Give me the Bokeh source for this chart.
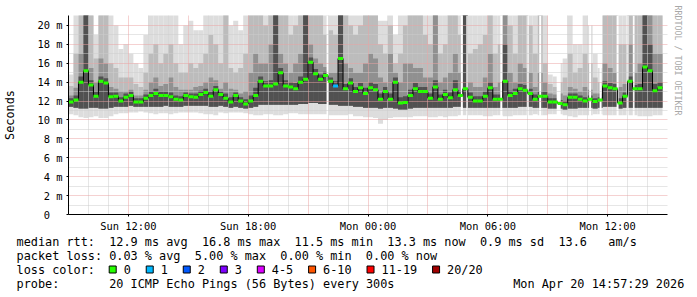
import math
import re
from bokeh.plotting import figure
from bokeh.layouts import column
from bokeh.models import FixedTicker, Grid, Range1d, ColumnDataSource, Title, LinearAxis
from bokeh.core.properties import value
from bokeh.embed import file_html
from bokeh.resources import INLINE

# ---------------- data (times in hours since Sun 00:00, 15-minute bins, values in ms) ----------------
BIN_HOURS = 0.25
FIRST_BIN = 9.0

median_ms = [
    11.9, 12.1, 14.0, 15.2, 13.7, 12.5, 14.1, 13.9, 12.45, 12.5, 12.0, 12.4, 12.6, 11.9, 11.9, 12.3, 12.6, 12.8, 12.6, 12.6,
    12.45, 12.2, 12.1, 12.6, 12.45, 12.4, 12.7, 12.9, 12.5, 13.2, 12.7, 12.3, 11.9, 12.6, 12.0, 11.7, 12.0, 12.6, 14.1, 13.6,
    13.6, 13.8, 15.0, 13.6, 13.5, 13.3, 14.0, 14.3, 16.1, 14.9, 14.3, 14.7, 14.1, 13.6, 16.5, 13.3, 13.9, 13.0, 13.4, 12.8,
    13.4, 13.2, 12.2, 13.0, 12.2, 14.0, 11.8, 11.85, 12.6, 13.3, 13.0, 13.0, 12.3, 13.5, 12.2, 12.7, 12.35, 13.2, 12.6, 13.3,
    12.4, 12.0, 12.0, 12.5, 13.4, 12.2, 12.2, 14.1, 12.6, 12.8, 13.3, 13.15, 12.8, 12.2, 12.5, 12.5, 11.9, 11.9, 11.75, 11.6,
    12.4, 12.4, 12.2, 12.0, 12.2, 11.95, 12.1, 13.6, 13.4, 13.3, 11.8, 12.5, 14.1, 13.3, 13.3, 15.6, 15.2, 13.1, 13.4,
]
loss_count = [
    0, 0, 0, 0, 0, 0, 0, 0, 0, 0, 0, 0, 0, 0, 0, 0, 0, 0, 0, 0,
    0, 0, 0, 0, 0, 0, 0, 0, 0, 0, 0, 0, 0, 0, 0, 0, 0, 0, 0, 0,
    0, 0, 0, 0, 0, 0, 0, 0, 0, 0, 0, 0, 0, 1, 0, 0, 0, 0, 0, 0,
    0, 0, 0, 0, 0, 0, 0, 0, 0, 0, 0, 0, 0, 0, 0, 0, 0, 0, 0, 0,
    0, 0, 0, 0, 0, 0, 0, 0, 0, 0, 0, 0, 0, 0, 0, 0, 0, 0, 0, 0,
    0, 0, 0, 0, 0, 0, 0, 0, 0, 0, 0, 0, 0, 0, 0, 0, 0, 0, 0,
]
# smoke: outer band (min..max), then narrower ping bands towards the median (21.1 = off the top)
smoke_max = [
    14.8, 21.1, 21.1, 21.1, 21.1, 19.0, 21.1, 21.1, 21.1, 20.0, 17.5, 18.0, 17.0, 16.0, 15.5, 19.0, 21.1, 21.1, 21.1, 21.1,
    21.1, 21.1, 18.0, 20.0, 20.5, 19.5, 19.5, 21.1, 21.1, 21.1, 21.1, 21.1, 20.0, 20.5, 19.5, 21.1, 21.1, 21.1, 21.1, 21.1,
    21.1, 21.1, 21.1, 21.1, 21.1, 21.1, 21.1, 21.1, 21.1, 21.1, 21.1, 21.1, 21.1, 21.1, 21.1, 21.1, 21.1, 21.1, 21.1, 21.1,
    21.1, 21.1, 20.5, 20.5, 21.1, 19.0, 21.1, 21.1, 21.1, 21.1, 21.1, 21.1, 21.1, 21.1, 21.1, 21.1, 21.1, 21.1, 21.1, 21.1,
    21.1, 21.1, 21.1, 21.1, 21.1, 21.1, 21.1, 21.1, 21.1, 21.1, 21.1, 21.1, 21.1, 21.1, 21.1, 21.1, 14.8, 14.6, 16.0, 16.5,
    21.1, 18.0, 18.0, 21.1, 20.0, 17.0, 15.5, 21.1, 21.1, 21.1, 21.1, 21.1, 21.1, 21.1, 21.1, 21.1, 21.1, 21.1, 21.1,
]
smoke_hi_mid = [
    13.6, 17.0, 21.1, 21.1, 21.1, 16.5, 21.1, 21.1, 16.0, 15.5, 14.5, 14.5, 14.5, 13.8, 13.5, 15.0, 17.0, 18.0, 16.0, 17.0,
    18.0, 16.0, 15.0, 15.0, 16.0, 15.5, 16.0, 17.0, 19.0, 18.0, 16.0, 21.1, 15.5, 15.0, 15.5, 17.0, 21.1, 21.1, 21.1, 20.0,
    21.1, 21.1, 21.1, 21.1, 19.0, 20.0, 21.1, 21.1, 21.1, 21.1, 21.1, 19.0, 19.5, 19.0, 21.1, 21.1, 20.0, 19.0, 20.0, 21.1,
    21.1, 21.1, 18.0, 17.0, 20.0, 16.0, 17.0, 20.0, 21.1, 21.1, 21.1, 19.0, 18.0, 21.1, 17.0, 18.0, 21.1, 21.1, 19.0, 21.1,
    17.0, 17.5, 18.0, 19.0, 21.1, 17.0, 18.0, 21.1, 20.0, 17.0, 21.1, 21.1, 20.0, 17.0, 21.1, 16.0, 13.8, 13.5, 14.0, 14.5,
    17.0, 15.0, 15.5, 17.0, 16.0, 14.5, 14.0, 21.1, 21.1, 21.1, 18.0, 18.0, 21.1, 21.1, 21.1, 21.1, 21.1, 21.1, 21.1,
]
smoke_hi_dark = [
    12.6, 13.4, 17.0, 21.1, 15.5, 14.0, 16.5, 16.0, 13.5, 13.3, 13.0, 13.0, 13.2, 12.6, 12.6, 13.2, 14.0, 14.5, 13.6, 13.8,
    14.5, 13.5, 13.2, 13.2, 13.2, 13.5, 13.6, 14.0, 14.5, 14.2, 13.3, 14.0, 13.3, 13.2, 12.8, 13.0, 15.0, 17.0, 16.0, 16.0,
    18.0, 21.1, 17.0, 16.0, 15.0, 16.0, 17.0, 21.1, 18.0, 16.5, 16.0, 15.6, 15.0, 15.0, 21.1, 16.0, 15.5, 15.0, 15.0, 16.0,
    17.0, 16.5, 14.5, 14.0, 17.0, 15.0, 14.0, 16.0, 16.0, 15.5, 15.5, 14.5, 14.5, 21.1, 14.0, 14.5, 15.0, 17.0, 15.0, 21.1,
    14.0, 13.5, 13.5, 14.5, 17.0, 13.5, 14.0, 21.1, 15.0, 14.0, 16.0, 15.5, 15.0, 13.5, 15.0, 14.0, 12.8, 12.7, 12.8, 12.6,
    13.5, 13.3, 13.0, 13.5, 13.2, 12.8, 12.8, 16.0, 15.5, 15.0, 13.5, 13.8, 18.0, 15.0, 16.0, 21.1, 21.1, 17.0, 17.0,
]
smoke_hi_core = [
    12.3, 12.6, 14.6, 21.1, 14.2, 13.0, 14.6, 14.4, 12.9, 12.9, 12.4, 12.8, 13.0, 12.3, 12.3, 12.7, 13.0, 13.3, 13.0, 13.0,
    12.9, 12.6, 12.5, 12.9, 12.8, 12.8, 13.1, 13.3, 13.0, 13.6, 13.0, 12.8, 12.4, 12.9, 12.4, 12.2, 12.6, 13.4, 14.6, 14.1,
    14.2, 21.1, 15.5, 14.2, 14.0, 13.9, 14.6, 21.1, 16.6, 15.4, 14.8, 15.1, 14.5, 14.1, 21.1, 13.8, 14.4, 13.5, 13.9, 13.4,
    14.0, 13.8, 12.8, 13.5, 12.8, 14.5, 12.4, 12.5, 13.2, 13.9, 13.5, 13.5, 12.8, 14.2, 12.7, 13.2, 12.9, 14.2, 13.1, 21.1,
    12.9, 12.5, 12.5, 13.0, 14.0, 12.7, 12.7, 18.0, 13.1, 13.3, 13.8, 13.7, 13.3, 12.7, 13.0, 13.0, 12.3, 12.3, 12.1, 12.0,
    12.8, 12.8, 12.6, 12.4, 12.6, 12.3, 12.4, 14.1, 13.9, 13.8, 12.3, 12.9, 14.6, 13.7, 13.8, 21.1, 18.0, 13.8, 14.0,
]
smoke_min = [
    10.6, 10.5, 10.3, 10.2, 10.3, 10.4, 10.2, 10.2, 10.4, 10.6, 10.7, 10.7, 10.8, 10.8, 10.9, 10.8, 10.7, 10.6, 10.7, 10.7,
    10.6, 10.7, 10.8, 10.8, 10.8, 10.8, 10.7, 10.6, 10.6, 10.5, 10.8, 10.7, 10.8, 10.8, 10.8, 10.7, 10.6, 10.5, 10.5, 10.6,
    10.6, 10.5, 10.5, 10.6, 10.7, 10.7, 10.6, 10.6, 10.6, 10.6, 10.6, 10.6, 10.5, 10.5, 10.5, 10.5, 10.6, 10.4, 10.4, 10.3,
    10.3, 10.2, 9.6, 10.0, 10.2, 10.3, 10.3, 10.3, 10.3, 10.4, 10.4, 10.4, 10.3, 10.3, 10.4, 10.3, 10.4, 10.4, 10.5, 10.5,
    10.5, 10.5, 10.5, 10.4, 10.4, 10.5, 10.5, 10.4, 10.4, 10.5, 10.5, 10.5, 10.5, 10.6, 10.5, 10.5, 10.6, 10.6, 10.6, 10.5,
    10.4, 10.3, 10.5, 10.5, 10.5, 10.6, 10.6, 10.5, 10.5, 10.5, 10.5, 10.5, 10.5, 10.5, 10.4, 10.4, 10.4, 10.5, 10.5,
]
smoke_lo_inner = [
    11.4, 11.3, 11.2, 11.2, 11.3, 11.3, 11.2, 11.2, 11.3, 11.4, 11.4, 11.4, 11.5, 11.4, 11.4, 11.4, 11.4, 11.4, 11.4, 11.5,
    11.4, 11.4, 11.4, 11.5, 11.5, 11.5, 11.5, 11.5, 11.4, 11.4, 11.5, 11.4, 11.3, 11.4, 11.3, 11.2, 11.3, 11.4, 11.6, 11.6,
    11.6, 11.6, 11.6, 11.6, 11.6, 11.6, 11.7, 11.7, 11.8, 11.8, 11.7, 11.7, 11.6, 11.6, 11.5, 11.5, 11.5, 11.4, 11.4, 11.3,
    11.3, 11.3, 11.2, 11.3, 11.3, 11.2, 11.1, 11.1, 11.2, 11.3, 11.3, 11.3, 11.3, 11.3, 11.3, 11.3, 11.3, 11.4, 11.4, 11.3,
    11.3, 11.3, 11.3, 11.3, 11.3, 11.3, 11.3, 11.3, 11.3, 11.3, 11.4, 11.4, 11.4, 11.3, 11.3, 11.3, 11.2, 11.2, 11.2, 11.1,
    11.2, 11.2, 11.3, 11.3, 11.3, 11.2, 11.3, 11.4, 11.4, 11.4, 11.2, 11.3, 11.3, 11.3, 11.3, 11.3, 11.3, 11.3, 11.3,
]
# periods without data (start hour, length in hours)
gap_start = [21.925, 28.65, 28.925, 30.625, 31.95, 32.575, 33.45, 35.075, 35.6, 36.45, 36.95, 37.275]
gap_len = [0.1, 0.1, 0.075, 0.1, 0.1, 0.1, 0.2, 0.1, 0.1, 0.1, 0.1, 0.075]

x_ticks = [12, 18, 24, 30, 36]
x_tick_labels = ["Sun 12:00", "Sun 18:00", "Mon 00:00", "Mon 06:00", "Mon 12:00"]
y_ticks = [0, 2, 4, 6, 8, 10, 12, 14, 16, 18, 20]
y_tick_labels = ["0\u00a0\u00a0", "2 m", "4 m", "6 m", "8 m", "10 m", "12 m", "14 m", "16 m", "18 m", "20 m"]

loss_labels = ["0", "1", "2", "3", "4-5", "6-10", "11-19", "20/20"]
loss_max = [0, 1, 2, 3, 5, 10, 19, 20]
loss_colors = ["#26ff00", "#00b8ff", "#0059ff", "#7e00ff", "#dd00ff", "#ff5500", "#ff0000", "#a00000"]

line_rtt = "median rtt:  12.9 ms avg  16.8 ms max  11.5 ms min  13.3 ms now  0.9 ms sd  13.6   am/s"
line_loss = "packet loss: 0.03 % avg  5.00 % max  0.00 % min  0.00 % now"
line_color_title = "loss color:"
line_probe = "probe:       20 ICMP Echo Pings (56 Bytes) every 300s"
line_date = "Mon Apr 20 14:57:29 2026"
watermark = "RRDTOOL / TOBI OETIKER"

# ---------------- main chart ----------------
W = 697
FL, FR, FT, FB = 67, 667, 15, 215   # frame edges in canvas pixels
MAIN_H = 234
MONO = "DejaVu Sans Mono"
Y_TOP = 21.05

p = figure(width=W, height=MAIN_H, output_backend="svg", toolbar_location=None,
           x_range=Range1d(9.0, 39.0), y_range=Range1d(0, Y_TOP),
           min_border_left=FL, min_border_right=W - FR, min_border_top=FT, min_border_bottom=MAIN_H - FB)
p.outline_line_color = None
p.background_fill_color = "white"
p.border_fill_color = "white"
p.xgrid.visible = False
p.ygrid.visible = False

n = len(median_ms)
t0 = [FIRST_BIN + BIN_HOURS * i for i in range(n)]
t1 = [t + BIN_HOURS for t in t0]

def loss_color(k):
    for mx, c in zip(loss_max, loss_colors):
        if k <= mx:
            return c
    return loss_colors[-1]

src = ColumnDataSource(dict(t0=t0, t1=t1, med=median_ms, mn=smoke_min, mx=smoke_max,
                            lo=smoke_lo_inner, him=smoke_hi_mid, hid=smoke_hi_dark, hic=smoke_hi_core,
                            col=[loss_color(k) for k in loss_count]))

layers = [("mn", "mx", "#dddddd"), ("lo", "him", "#bcbcbc"), ("lo", "hid", "#909090"), ("lo", "hic", "#515151")]
for b, t, c in layers:
    p.quad(left="t0", right="t1", bottom=b, top=t, source=src, fill_color=c, line_color=None, level="image")

p.quad(left=gap_start, right=[s + l for s, l in zip(gap_start, gap_len)], bottom=0, top=Y_TOP,
       fill_color="white", line_color=None, level="image")

# grid (drawn over the smoke)
minor_h = [h for h in range(10, 39) if h % 3 != 0]
major_h = [h for h in range(12, 39, 3)]
minor_v = [v for v in range(1, 21) if v % 2 == 1]
major_v = [v for v in range(2, 21, 2)]
for dim, ticks, color in [(0, minor_h, "#cccccc"), (1, minor_v, "#cccccc"),
                          (0, major_h, "#eba3a3"), (1, major_v, "#eba3a3")]:
    p.add_layout(Grid(dimension=dim, ticker=FixedTicker(ticks=ticks), grid_line_color=color,
                      grid_line_dash="1 1", grid_line_width=1))

# median: dark step line with loss-coloured flats
p.step(x=t0 + [t1[-1]], y=median_ms + [median_ms[-1]], mode="after", line_color="#000000", line_width=1)
p.segment(x0="t0", x1="t1", y0="med", y1="med", source=src, line_color="col", line_width=3, line_cap="butt")

# axes
for ax in (p.xaxis[0], p.yaxis[0]):
    ax.axis_line_color = "black"
    ax.major_tick_line_color = "black"
    ax.minor_tick_line_color = None
    ax.major_label_text_font = MONO
    ax.major_label_text_font_size = "10.4px"
    ax.major_label_text_color = "black"
p.xaxis.ticker = FixedTicker(ticks=x_ticks)
p.xaxis.major_label_overrides = dict(zip(x_ticks, x_tick_labels))
p.xaxis.major_tick_out = 2
p.xaxis.major_tick_in = 0
p.xaxis.major_label_standoff = 3
p.yaxis.ticker = FixedTicker(ticks=y_ticks)
p.yaxis.major_label_overrides = dict(zip(y_ticks, y_tick_labels))
p.yaxis.major_tick_out = 2
p.yaxis.major_tick_in = 0
p.yaxis.major_label_standoff = 4
p.yaxis.axis_label = "Seconds"
p.yaxis.axis_label_text_font = MONO
p.yaxis.axis_label_text_font_size = "11.85px"
p.yaxis.axis_label_text_font_style = "normal"
p.yaxis.axis_label_text_color = "black"
p.yaxis.axis_label_standoff = 17

# invisible spacer on the right, then the vertical watermark beyond it
spacer = LinearAxis(ticker=FixedTicker(ticks=[]), axis_line_color=None, major_tick_line_color=None,
                    minor_tick_line_color=None, major_tick_out=8, major_tick_in=0,
                    major_label_text_font_size="0px")
p.add_layout(spacer, "right")
p.add_layout(Title(text=watermark, align="left", text_font=MONO,
                   text_font_size="8.3px", text_font_style="normal", text_color="#a8a8a8",
                   offset=-10, standoff=10), "right")

# ---------------- legend block below the chart ----------------
LEG_TOP = MAIN_H
LEG_H = 297 - MAIN_H
CW = 7.13   # monospace character advance in px
leg = figure(width=W, height=LEG_H, output_backend="svg", toolbar_location=None,
             x_range=Range1d(0, W), y_range=Range1d(LEG_H, 0),
             min_border=0, min_border_left=0, min_border_right=0, min_border_top=0, min_border_bottom=0)
leg.axis.visible = False
leg.grid.visible = False
leg.outline_line_color = None
leg.background_fill_color = "white"
leg.border_fill_color = "white"
for fig in (p, leg):
    if "frame_align" in fig.properties():
        fig.frame_align = False

xs, ys, texts = [], [], []
for line, cy in [(line_rtt, 241), (line_loss, 255), (line_color_title, 269), (line_probe, 283)]:
    for m in re.finditer(r"\S+(?: \S+)*", line):
        xs.append(16 + m.start() * CW)
        ys.append(cy - LEG_TOP)
        texts.append(m.group())
xs.append(512.7); ys.append(283 - LEG_TOP); texts.append(line_date)

bl = []
bx = 16 + 13 * CW
for lab in loss_labels:
    bl.append(bx)
    tx = bx + 14.5
    xs.append(tx); ys.append(269 - LEG_TOP); texts.append(lab)
    bx = tx + len(lab) * CW + 15.4

leg.quad(left=bl, right=[b + 7 for b in bl], top=265.5 - LEG_TOP, bottom=272.5 - LEG_TOP,
         fill_color=loss_colors, line_color="black", line_width=1)
leg.text(x=xs, y=ys, text=texts, text_font=value(MONO), text_font_size=value("11.85px"),
         text_baseline="middle", text_align="left", text_color="black")

layout = column(p, leg, spacing=0)
open("out.html", "w").write(file_html(layout, INLINE))
